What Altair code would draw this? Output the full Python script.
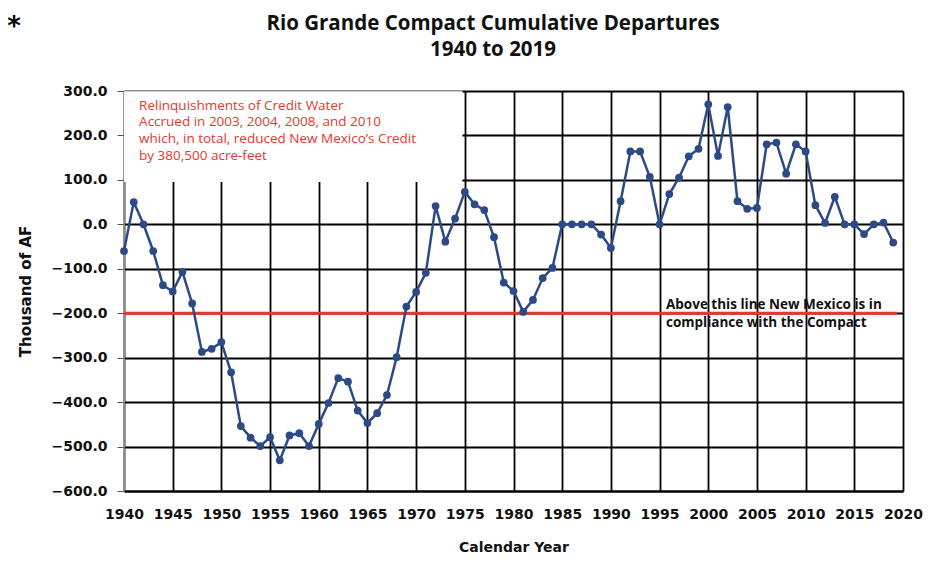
import altair as alt
import pandas as pd

years = list(range(1940, 2020))
departures = [-60, 50, 0, -60, -137, -151, -107, -178, -287, -280,
              -265, -333, -454, -480, -499, -479, -531, -475, -470, -499,
              -449, -402, -346, -354, -419, -447, -425, -384, -299, -185,
              -152, -109, 41, -39, 13, 73, 45, 32, -29, -131,
              -150, -197, -170, -121, -98, 0, 0, 0, 0, -23,
              -53, 52, 164, 164, 107, 0, 68, 105, 153, 170,
              270, 154, 264, 52, 35, 37, 180, 184, 114, 180,
              164, 43, 3, 62, 0, 0, -22, 0, 4, -41]

x_ticks = list(range(1940, 2021, 5))
y_ticks = list(range(-600, 301, 100))
compliance_level = [-200]

title_lines = ["Rio Grande Compact Cumulative Departures", "1940 to 2019"]
red_note = ["Relinquishments of Credit Water",
            "Accrued in 2003, 2004, 2008, and 2010",
            "which, in total, reduced New Mexico\u2019s Credit",
            "by 380,500 acre-feet"]
black_note = ["Above this line New Mexico is in",
              "compliance with  the Compact"]

df = pd.DataFrame({"year": years, "value": departures})

AXFONT = "DejaVu Sans"
TXFONT = "Open Sans"
LINE_BLUE = "#2c4a86"
RED = "#e8372c"

xs = alt.Scale(domain=[1940, 2020], nice=False, zero=False)
ys = alt.Scale(domain=[-600, 300], nice=False, zero=False)

x_axis = alt.Axis(values=x_ticks, format="d", title="Calendar Year",
                  grid=True, gridColor="black", gridWidth=1.8, gridOpacity=1,
                  domainColor="black", domainWidth=1.8, ticks=False,
                  labelFont=AXFONT, labelFontSize=14, labelFontWeight="bold",
                  labelColor="#111111", labelPadding=16, labelOverlap=False,
                  labelFlush=False,
                  titleFont=AXFONT, titleFontSize=14, titleFontWeight="bold",
                  titleColor="#111111", titlePadding=19)
y_axis = alt.Axis(values=y_ticks, format=".1f", title="Thousand of AF",
                  grid=True, gridColor="black", gridWidth=1.8, gridOpacity=1,
                  domainColor="#8a8a8a", domainWidth=1.2, tickColor="#555555",
                  tickSize=7, labelFont=AXFONT, labelFontSize=14, labelFontWeight="bold",
                  labelColor="#111111", labelPadding=10, labelOverlap=False,
                  titleFont=AXFONT, titleFontSize=15, titleFontWeight="bold",
                  titleColor="#111111", titlePadding=17)

base = alt.Chart(df)

line = base.mark_line(color=LINE_BLUE, strokeWidth=2.5).encode(
    x=alt.X("year:Q", scale=xs, axis=x_axis),
    y=alt.Y("value:Q", scale=ys, axis=y_axis),
)
points = base.mark_circle(color=LINE_BLUE, size=60, opacity=1).encode(
    x=alt.X("year:Q", scale=xs), y=alt.Y("value:Q", scale=ys))

box_df = pd.DataFrame({"x": [1940], "x2": [1974.75], "y": [95], "y2": [300]})
box = alt.Chart(box_df).mark_rect(fill="white").encode(
    x=alt.X("x:Q", scale=xs), x2="x2", y=alt.Y("y:Q", scale=ys), y2="y2")
box_top = alt.Chart(box_df).mark_rule(color="#999999", strokeWidth=1.2).encode(
    x=alt.X("x:Q", scale=xs), x2="x2", y=alt.Y("y2:Q", scale=ys))

red_df = pd.DataFrame({"x": [1940], "x2": [2019.4], "y": compliance_level})
red_line = alt.Chart(red_df).mark_rule(color=RED, strokeWidth=3).encode(
    x=alt.X("x:Q", scale=xs), x2="x2", y=alt.Y("y:Q", scale=ys))

red_text_df = pd.DataFrame({"x": [1941.55], "y": [267], "t": ["\n".join(red_note)]})
red_text = alt.Chart(red_text_df).mark_text(
    align="left", baseline="middle", font=TXFONT, fontSize=13.5, color=RED,
    lineBreak="\n", lineHeight=16.8).encode(
    x=alt.X("x:Q", scale=xs), y=alt.Y("y:Q", scale=ys), text="t:N")

black_text_df = pd.DataFrame({"x": [1995.66], "y": [-182], "t": ["\n".join(black_note)]})
black_text = alt.Chart(black_text_df).mark_text(
    align="left", baseline="middle", font=TXFONT, fontSize=13.5, fontWeight="bold",
    color="#111111", lineBreak="\n", lineHeight=18).encode(
    x=alt.X("x:Q", scale=xs), y=alt.Y("y:Q", scale=ys), text="t:N")

title_top = alt.Chart(pd.DataFrame({"t": [title_lines[0]]})).mark_text(
    font=TXFONT, fontSize=20.5, fontWeight="bold", color="#111111",
    align="center", baseline="middle").encode(
    x=alt.value(369), y=alt.value(-67), text="t:N")
title_bottom = alt.Chart(pd.DataFrame({"t": [title_lines[1]]})).mark_text(
    font=TXFONT, fontSize=20.5, fontWeight="bold", color="#111111",
    align="center", baseline="middle").encode(
    x=alt.value(369), y=alt.value(-41.5), text="t:N")

star = alt.Chart(pd.DataFrame({"t": ["*"]})).mark_text(
    font="DejaVu Sans", fontSize=26, fontWeight="bold", color="black",
    align="center", baseline="middle").encode(
    x=alt.value(-110), y=alt.value(-64), text="t:N")

chart = alt.layer(box, box_top, red_line, line, points, red_text, black_text,
                  title_top, title_bottom, star).properties(
    width=779, height=400,
    padding={"left": 116, "top": 83, "right": 20, "bottom": 70},
    autosize=alt.AutoSizeParams(type="none"),
).configure_view(stroke=None).configure(background="white")

chart.save("out.html", embed_options={"renderer": "svg", "actions": False})
